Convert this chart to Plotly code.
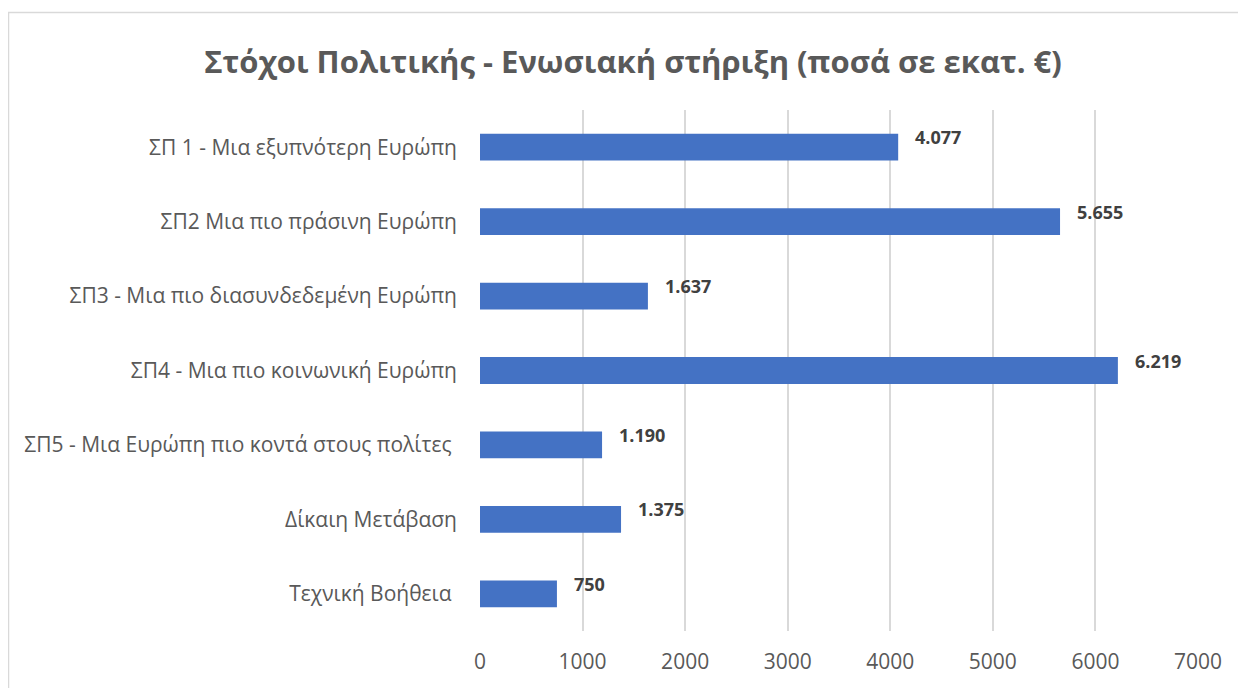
import plotly.graph_objects as go

categories = [
    "ΣΠ 1 - Μια εξυπνότερη Ευρώπη",
    "ΣΠ2 Μια πιο πράσινη Ευρώπη",
    "ΣΠ3 - Μια πιο διασυνδεδεμένη Ευρώπη",
    "ΣΠ4 - Μια πιο κοινωνική Ευρώπη",
    "ΣΠ5 - Μια Ευρώπη πιο κοντά στους πολίτες ",
    "Δίκαιη Μετάβαση",
    "Τεχνική Βοήθεια ",
]
values = [4077, 5655, 1637, 6219, 1190, 1375, 750]
x_ticks = [0, 1000, 2000, 3000, 4000, 5000, 6000, 7000]
title_text = "Στόχοι Πολιτικής - Ενωσιακή στήριξη (ποσά σε εκατ. €)"

FONT = "Open Sans"
GREY = "#595959"

fig = go.Figure()
fig.add_trace(go.Bar(
    x=values, y=categories, orientation="h",
    marker=dict(color="#4472C4", line=dict(width=0)),
    width=0.36, hoverinfo="x+y",
))

for c, v in zip(categories, values):
    fig.add_annotation(
        x=v, y=c, xref="x", yref="y",
        text="<b>" + f"{v:,}".replace(",", ".") + "</b>",
        showarrow=False, xanchor="left", yanchor="middle",
        xshift=15, yshift=10,
        font=dict(family=FONT, size=18, color="#404040"),
    )

# page body has an 8px margin, so the figure is drawn offset by 8px
OFF = 8
W, H = 1246 - OFF, 688 - OFF
L, T = 480 - OFF, 110 - OFF
pw, ph = 718, 521
R = W - L - pw
B = H - T - ph

def px_x(p):
    return (p - OFF - L) / pw

def px_y(p):
    return (H - B - (p - OFF)) / ph

fig.add_shape(type="rect", xref="paper", yref="paper",
              x0=px_x(8.5), x1=px_x(1300), y0=px_y(760), y1=px_y(12.5),
              line=dict(color="#D9D9D9", width=1.5), fillcolor="rgba(0,0,0,0)",
              layer="below")

fig.update_layout(
    width=W, height=H,
    margin=dict(l=L, r=R, t=T, b=B),
    paper_bgcolor="white", plot_bgcolor="white",
    showlegend=False,
    title=dict(text="<b>" + title_text + "</b>",
               x=px_x(633), xref="paper", xanchor="center",
               y=1 - (62 - OFF) / H, yref="container", yanchor="middle",
               font=dict(family=FONT, size=31, color=GREY)),
    xaxis=dict(range=[0, 7000], tickvals=x_ticks, ticktext=[str(t) for t in x_ticks],
               showgrid=True, gridcolor="#D9D9D9", gridwidth=1.5,
               zeroline=False, showline=False, ticks="",
               tickfont=dict(family=FONT, size=21, color=GREY),
               ticklabelstandoff=16),
    yaxis=dict(autorange="reversed", showgrid=False, zeroline=False,
               showline=False, ticks="",
               tickfont=dict(family=FONT, size=21, color=GREY),
               ticklabelstandoff=22),
)

fig.write_html("out.html")
